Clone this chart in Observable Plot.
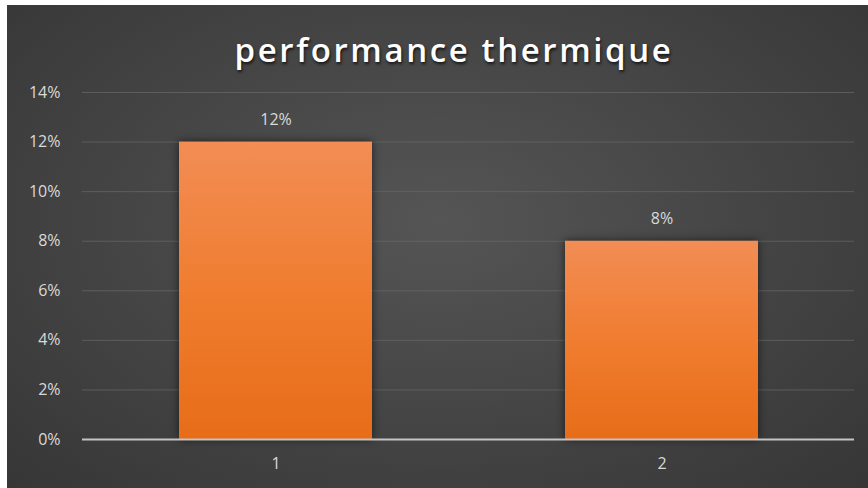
<!DOCTYPE html>
<html>
<head>
<meta charset="utf-8">
<script src="https://cdn.jsdelivr.net/npm/d3@7"></script>
<script src="https://cdn.jsdelivr.net/npm/@observablehq/plot@0.6"></script>
<style>
  html, body { margin: 0; padding: 0; background: #ffffff; }
  #frame {
    position: absolute; left: 7px; top: 5px; width: 861px; height: 483px;
    background: radial-gradient(ellipse at 50% 45%, #555555 0%, #474747 45%, #363636 100%);
    overflow: hidden;
  }
  #title {
    height: 70px; line-height: 90px; text-align: center;
    font-family: "Open Sans", sans-serif; font-weight: 600; font-size: 33px;
    letter-spacing: 2.6px; color: #ffffff;
    text-shadow: 1px 2px 3px rgba(0,0,0,0.7);
    padding-left: 33px; box-sizing: border-box;
  }
  #chart svg { display: block; }
</style>
</head>
<body>
<div id="frame">
  <div id="title">performance thermique</div>
  <div id="chart"></div>
</div>
<script>
const categories = ["1", "2"];
const values = [0.12, 0.08];
const yTicks = [0, 0.02, 0.04, 0.06, 0.08, 0.10, 0.12, 0.14];

const data = categories.map((c, i) => ({ category: c, value: values[i] }));
const pct = d => `${Math.round(d * 100)}%`;

const chart = Plot.plot({
  width: 861,
  height: 413,
  marginTop: 17,
  marginBottom: 49,
  marginLeft: 75,
  marginRight: 14,
  style: { background: "transparent", fontFamily: "Open Sans, sans-serif", fontSize: "16px", color: "#d9d9d9", overflow: "visible" },
  x: { domain: categories, paddingInner: 0.5, paddingOuter: 0.25, label: null },
  y: { domain: [0, 0.14], label: null },
  marks: [
    Plot.gridY(yTicks.filter(t => t > 0), { stroke: "#6a6a6a", strokeOpacity: 0.7, strokeWidth: 1 }),
    Plot.axisY(yTicks, { tickFormat: pct, tickSize: 0, tickPadding: 22, fontSize: 16, fill: "#d9d9d9", label: null }),
    Plot.axisX({ tickSize: 0, tickPadding: 18, fontSize: 16, fill: "#d9d9d9", label: null }),
    Plot.barY(data, { x: "category", y: "value", fill: "url(#barGrad)" }),
    Plot.ruleY([0], { stroke: "#c4c4c4", strokeWidth: 2 }),
    Plot.text(data, { x: "category", y: "value", text: d => pct(d.value), dy: -22, fill: "#d9d9d9", fontSize: 16 })
  ]
});

const svg = d3.select(chart);
const defs = svg.insert("defs", ":first-child");
const g = defs.append("linearGradient").attr("id", "barGrad").attr("x1", 0).attr("y1", 0).attr("x2", 0).attr("y2", 1);
g.append("stop").attr("offset", "0%").attr("stop-color", "#f28d55");
g.append("stop").attr("offset", "50%").attr("stop-color", "#f07d30");
g.append("stop").attr("offset", "100%").attr("stop-color", "#e76d18");
svg.selectAll("[aria-label='bar'] rect").attr("style", "filter: drop-shadow(0px 0px 4px rgba(0,0,0,0.6))");

document.getElementById("chart").appendChild(chart);
</script>
</body>
</html>
